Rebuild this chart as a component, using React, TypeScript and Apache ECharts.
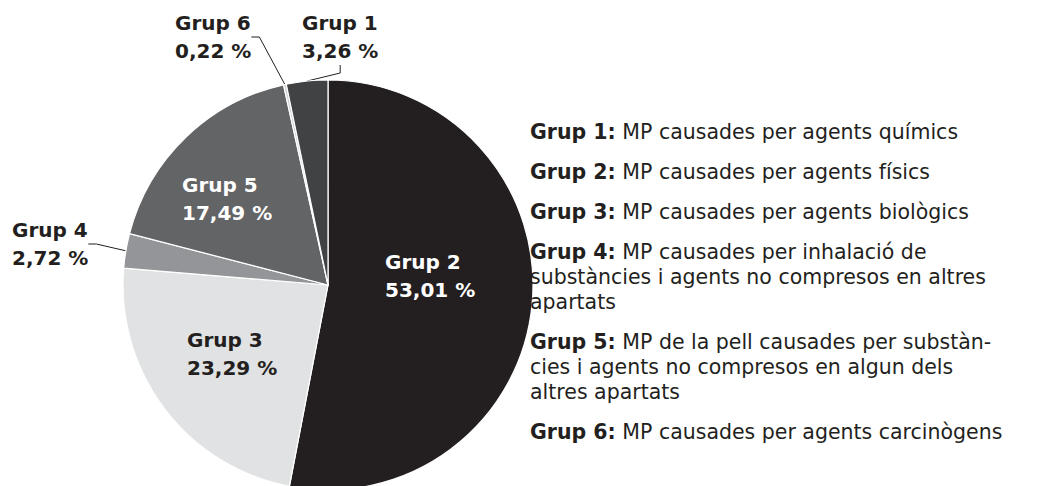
import React, { useEffect, useRef } from "react";
import * as echarts from "echarts";

// Data (clockwise from 12 o'clock)
const groups = ["Grup 2", "Grup 3", "Grup 4", "Grup 5", "Grup 6", "Grup 1"];
const shares = [53.01, 23.29, 2.72, 17.49, 0.22, 3.26];
const shareLabels = ["53,01 %", "23,29 %", "2,72 %", "17,49 %", "0,22 %", "3,26 %"];
const sliceColors = ["#231f20", "#e1e2e3", "#939598", "#636466", "#d1d2d4", "#414244"];

// Legend (descriptions)
const legendNames = ["Grup 1", "Grup 2", "Grup 3", "Grup 4", "Grup 5", "Grup 6"];
const legendTexts = [
  "MP causades per agents químics",
  "MP causades per agents físics",
  "MP causades per agents biològics",
  "MP causades per inhalació de\nsubstàncies i agents no compresos en altres\napartats",
  "MP de la pell causades per substàn-\ncies i agents no compresos en algun dels\naltres apartats",
  "MP causades per agents carcinògens",
];

// Label layout (top-left of each label block)
const labelBoxes: Record<string, [number, number]> = {
  "Grup 2": [385, 248],
  "Grup 3": [187, 326],
  "Grup 4": [12, 216],
  "Grup 5": [182, 171],
  "Grup 6": [175, 9],
  "Grup 1": [302, 9],
};
const insideGroups = ["Grup 2", "Grup 3", "Grup 5"];
const whiteLabelGroups = ["Grup 2", "Grup 5"];

const FONT = "'DejaVu Sans', sans-serif";
const LEG_SIZE = 20.5;

export default function App() {
  const ref = useRef<HTMLDivElement>(null);
  useEffect(() => {
    document.body.style.margin = "0";
    if (!ref.current) return;
    const chart = echarts.init(ref.current, null, { renderer: "svg" });
    const data = groups.map((g, i) => {
      const inside = insideGroups.includes(g);
      return {
        name: g,
        value: shares[i],
        itemStyle: { color: sliceColors[i] },
        label: {
          show: true,
          position: inside ? "inside" : "outside",
          formatter: `${g}\n${shareLabels[i]}`,
          color: whiteLabelGroups.includes(g) ? "#ffffff" : "#231f20",
          fontFamily: FONT,
          fontWeight: "bold",
          fontSize: 20,
          lineHeight: 28,
          align: "left",
        },
        labelLine: { show: !inside },
      };
    });
    const lookup: Record<string, string> = {};
    legendNames.forEach((n, i) => (lookup[n] = legendTexts[i]));
    chart.setOption({
      animation: false,
      legend: {
        orient: "vertical",
        left: 519,
        top: 114,
        data: legendNames,
        icon: "rect",
        itemWidth: 0,
        itemHeight: 0,
        itemGap: 15,
        selectedMode: false,
        formatter: (name: string) => `{b|${name}:} {r|${lookup[name].split("\n").join("}\n{r|")}}`,
        textStyle: {
          fontFamily: FONT,
          fontSize: LEG_SIZE,
          color: "#231f20",
          lineHeight: 25,
          rich: {
            b: { fontFamily: FONT, fontSize: LEG_SIZE, fontWeight: "bold", color: "#231f20", lineHeight: 25 },
            r: { fontFamily: FONT, fontSize: LEG_SIZE, color: "#231f20", lineHeight: 25 },
          },
        },
      },
      series: [
        {
          type: "pie",
          center: [328, 285],
          radius: 205,
          startAngle: 90,
          clockwise: true,
          avoidLabelOverlap: false,
          silent: true,
          itemStyle: { borderColor: "#ffffff", borderWidth: 1.2 },
          labelLine: {
            length: 8,
            length2: 8,
            lineStyle: { color: "#231f20", width: 1 },
          },
          labelLayout: (params: any) => {
            const name = groups[params.dataIndex];
            const box = labelBoxes[name];
            return { x: box[0], y: box[1], align: "left", verticalAlign: "top", hideOverlap: false };
          },
          data,
        },
      ],
    });
    return () => chart.dispose();
  }, []);
  return <div ref={ref} style={{ width: 1049, height: 486 }} />;
}
